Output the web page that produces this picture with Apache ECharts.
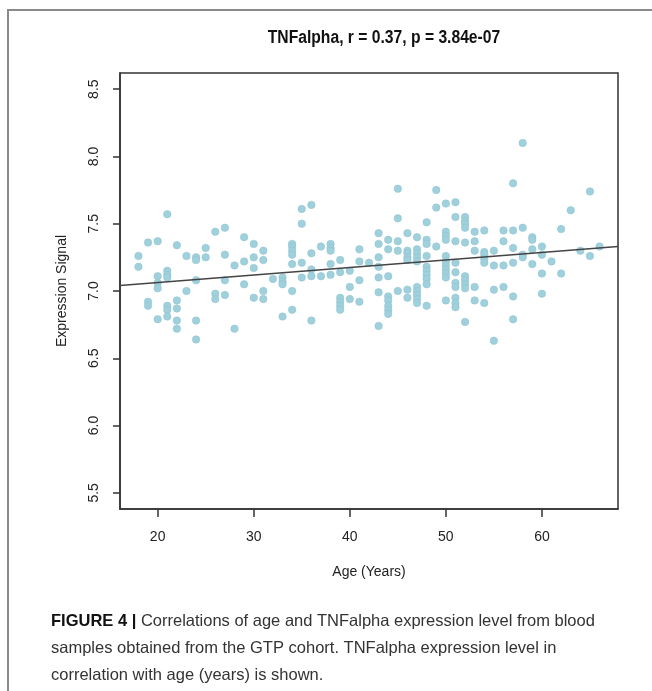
<!DOCTYPE html>
<html>
<head>
<meta charset="utf-8">
<script src="https://cdn.jsdelivr.net/npm/echarts@6/dist/echarts.min.js"></script>
<style>
  html, body { margin: 0; padding: 0; background: #fff; }
  #chart { width: 652px; height: 691px; }
</style>
</head>
<body>
<div id="chart"></div>
<script>
// one entry per point, grouped by age
var age = [
    18, 18,
    19, 19, 19,
    20, 20, 20, 20, 20,
    21, 21, 21, 21, 21, 21, 21,
    22, 22, 22, 22, 22,
    23, 23,
    24, 24, 24, 24, 24,
    25, 25,
    26, 26, 26,
    27, 27, 27, 27,
    28, 28,
    29, 29, 29,
    30, 30, 30, 30,
    31, 31, 31, 31,
    32,
    33, 33, 33, 33,
    34, 34, 34, 34, 34, 34, 34,
    35, 35, 35, 35,
    36, 36, 36, 36, 36,
    37, 37,
    38, 38, 38, 38, 38,
    39, 39, 39, 39, 39, 39,
    40, 40, 40,
    41, 41, 41, 41,
    42,
    43, 43, 43, 43, 43, 43, 43,
    44, 44, 44, 44, 44, 44, 44, 44,
    45, 45, 45, 45, 45,
    46, 46, 46, 46, 46, 46, 46,
    47, 47, 47, 47, 47, 47, 47, 47, 47, 47,
    48, 48, 48, 48, 48, 48, 48, 48, 48, 48,
    49, 49, 49,
    50, 50, 50, 50, 50, 50, 50, 50, 50, 50, 50,
    51, 51, 51, 51, 51, 51, 51, 51, 51, 51,
    52, 52, 52, 52, 52, 52, 52, 52, 52, 52,
    53, 53, 53, 53, 53,
    54, 54, 54, 54, 54, 54,
    55, 55, 55, 55,
    56, 56, 56, 56,
    57, 57, 57, 57, 57, 57,
    58, 58, 58, 58,
    59, 59, 59, 59,
    60, 60, 60, 60,
    61,
    62, 62,
    63,
    64,
    65, 65,
    66
];
var signal = [
    7.26, 7.18,
    7.36, 6.92, 6.89,
    7.37, 7.11, 7.06, 7.02, 6.79,
    7.57, 7.15, 7.12, 7.10, 6.89, 6.86, 6.81,
    7.34, 6.93, 6.87, 6.78, 6.72,
    7.26, 7.00,
    7.25, 7.23, 7.08, 6.78, 6.64,
    7.32, 7.25,
    7.44, 6.98, 6.94,
    7.47, 7.27, 7.08, 6.97,
    7.19, 6.72,
    7.40, 7.22, 7.05,
    7.35, 7.25, 7.17, 6.95,
    7.30, 7.23, 7.00, 6.94,
    7.09,
    7.10, 7.07, 7.05, 6.81,
    7.35, 7.33, 7.30, 7.27, 7.20, 7.00, 6.86,
    7.61, 7.50, 7.21, 7.10,
    7.64, 7.28, 7.16, 7.11, 6.78,
    7.33, 7.11,
    7.35, 7.32, 7.30, 7.20, 7.12,
    7.23, 7.14, 6.95, 6.92, 6.89, 6.86,
    7.15, 7.03, 6.94,
    7.31, 7.22, 7.08, 6.92,
    7.21,
    7.43, 7.35, 7.25, 7.18, 7.10, 6.99, 6.74,
    7.38, 7.31, 7.11, 6.96, 6.93, 6.89, 6.86, 6.83,
    7.76, 7.54, 7.37, 7.30, 7.00,
    7.43, 7.30, 7.28, 7.25, 7.23, 7.01, 6.95,
    7.40, 7.31, 7.28, 7.25, 7.22, 7.03, 7.00, 6.97, 6.94, 6.91,
    7.51, 7.38, 7.35, 7.26, 7.18, 7.15, 7.12, 7.09, 7.05, 6.89,
    7.75, 7.62, 7.33,
    7.65, 7.44, 7.41, 7.38, 7.26, 7.22, 7.19, 7.16, 7.13, 7.10, 6.93,
    7.66, 7.55, 7.37, 7.21, 7.14, 7.06, 7.03, 6.95, 6.91, 6.88,
    7.55, 7.52, 7.50, 7.47, 7.36, 7.11, 7.08, 7.05, 7.02, 6.77,
    7.44, 7.37, 7.30, 7.03, 6.93,
    7.45, 7.29, 7.27, 7.24, 7.21, 6.91,
    7.30, 7.19, 7.01, 6.63,
    7.45, 7.37, 7.19, 7.03,
    7.80, 7.45, 7.32, 7.21, 6.96, 6.79,
    8.10, 7.47, 7.27, 7.25,
    7.40, 7.38, 7.31, 7.20,
    7.33, 7.27, 7.13, 6.98,
    7.22,
    7.46, 7.13,
    7.60,
    7.30,
    7.74, 7.26,
    7.33
];

// regression line ends (at the plot edges)
var fitAge = [16.08, 67.92];
var fitSignal = [7.04, 7.33];

var xTicks = [20, 30, 40, 50, 60];
var yTicks = [5.5, 6.0, 6.5, 7.0, 7.5, 8.0, 8.5];

var titleText = 'TNFalpha, r = 0.37, p = 3.84e-07';
var xName = 'Age (Years)';
var yName = 'Expression Signal';
var captionLines = [
    '{b|FIGURE 4 |} Correlations of age and TNFalpha expression level from blood',
    'samples obtained from the GTP cohort. TNFalpha expression level in',
    'correlation with age (years) is shown.'
];

var points = age.map(function (a, i) { return [a, signal[i]]; });
var fitLine = fitAge.map(function (a, i) { return [a, fitSignal[i]]; });

var axisFont = "'Liberation Sans', Arial, sans-serif";

var myChart = echarts.init(document.getElementById('chart'), null, {renderer: 'canvas'});

var option = {
    backgroundColor: '#fff',
    animation: false,
    grid: {
        left: 120,
        top: 73,
        right: 34,
        bottom: 182,
        show: true,
        borderColor: '#333',
        borderWidth: 1.5,
        containLabel: false
    },
    xAxis: {
        type: 'value',
        min: 16.08,
        max: 67.92,
        name: xName,
        nameLocation: 'middle',
        nameGap: 56,
        nameTextStyle: {fontFamily: axisFont, fontSize: 14, color: '#222'},
        axisLine: {show: true, lineStyle: {color: '#333', width: 1.5}},
        axisTick: {show: true, length: 8, customValues: xTicks, lineStyle: {color: '#333', width: 1.5}},
        axisLabel: {
            customValues: xTicks,
            margin: 21,
            fontFamily: axisFont,
            fontSize: 14,
            color: '#222'
        },
        splitLine: {show: false}
    },
    yAxis: {
        type: 'value',
        min: 5.38,
        max: 8.62,
        name: yName,
        nameLocation: 'middle',
        nameGap: 51,
        nameTextStyle: {fontFamily: axisFont, fontSize: 14, color: '#222'},
        axisLine: {show: true, lineStyle: {color: '#333', width: 1.5}},
        axisTick: {show: true, length: 7, customValues: yTicks, lineStyle: {color: '#333', width: 1.5}},
        axisLabel: {
            customValues: yTicks,
            rotate: 90,
            margin: 19,
            fontFamily: axisFont,
            fontSize: 14,
            color: '#222',
            formatter: function (v) { return v.toFixed(1); }
        },
        splitLine: {show: false}
    },
    graphic: [
        {
            type: 'rect',
            shape: {x: 8, y: 10, width: 700, height: 720},
            style: {fill: 'none', stroke: '#8a8a8a', lineWidth: 2},
            silent: true
        },
        {
            // condensed bold title (no narrow font installed, so squeeze it)
            type: 'text',
            x: 384,
            y: 38,
            scaleX: 0.87,
            style: {
                text: titleText,
                font: "bold 18px 'Liberation Sans', Arial, sans-serif",
                fill: '#111',
                align: 'center',
                verticalAlign: 'middle'
            }
        },
        {
            type: 'text',
            left: 51,
            top: 608,
            style: {
                text: captionLines.join('\n'),
                font: "16.5px 'Liberation Sans', Arial, sans-serif",
                fill: '#333',
                lineHeight: 27,
                rich: {
                    b: {fontWeight: 'bold', fontSize: 16.5, fill: '#111', lineHeight: 27,
                        fontFamily: "'Liberation Sans', Arial, sans-serif"}
                }
            }
        }
    ],
    series: [
        {
            type: 'scatter',
            data: points,
            symbolSize: 7.5,
            itemStyle: {color: '#9fd0dc', borderColor: '#8cc3d0', borderWidth: 0.5, opacity: 1},
            z: 2
        },
        {
            type: 'line',
            data: fitLine,
            symbol: 'none',
            lineStyle: {color: '#444', width: 1.5},
            z: 3
        }
    ]
};

myChart.setOption(option);
</script>
</body>
</html>
